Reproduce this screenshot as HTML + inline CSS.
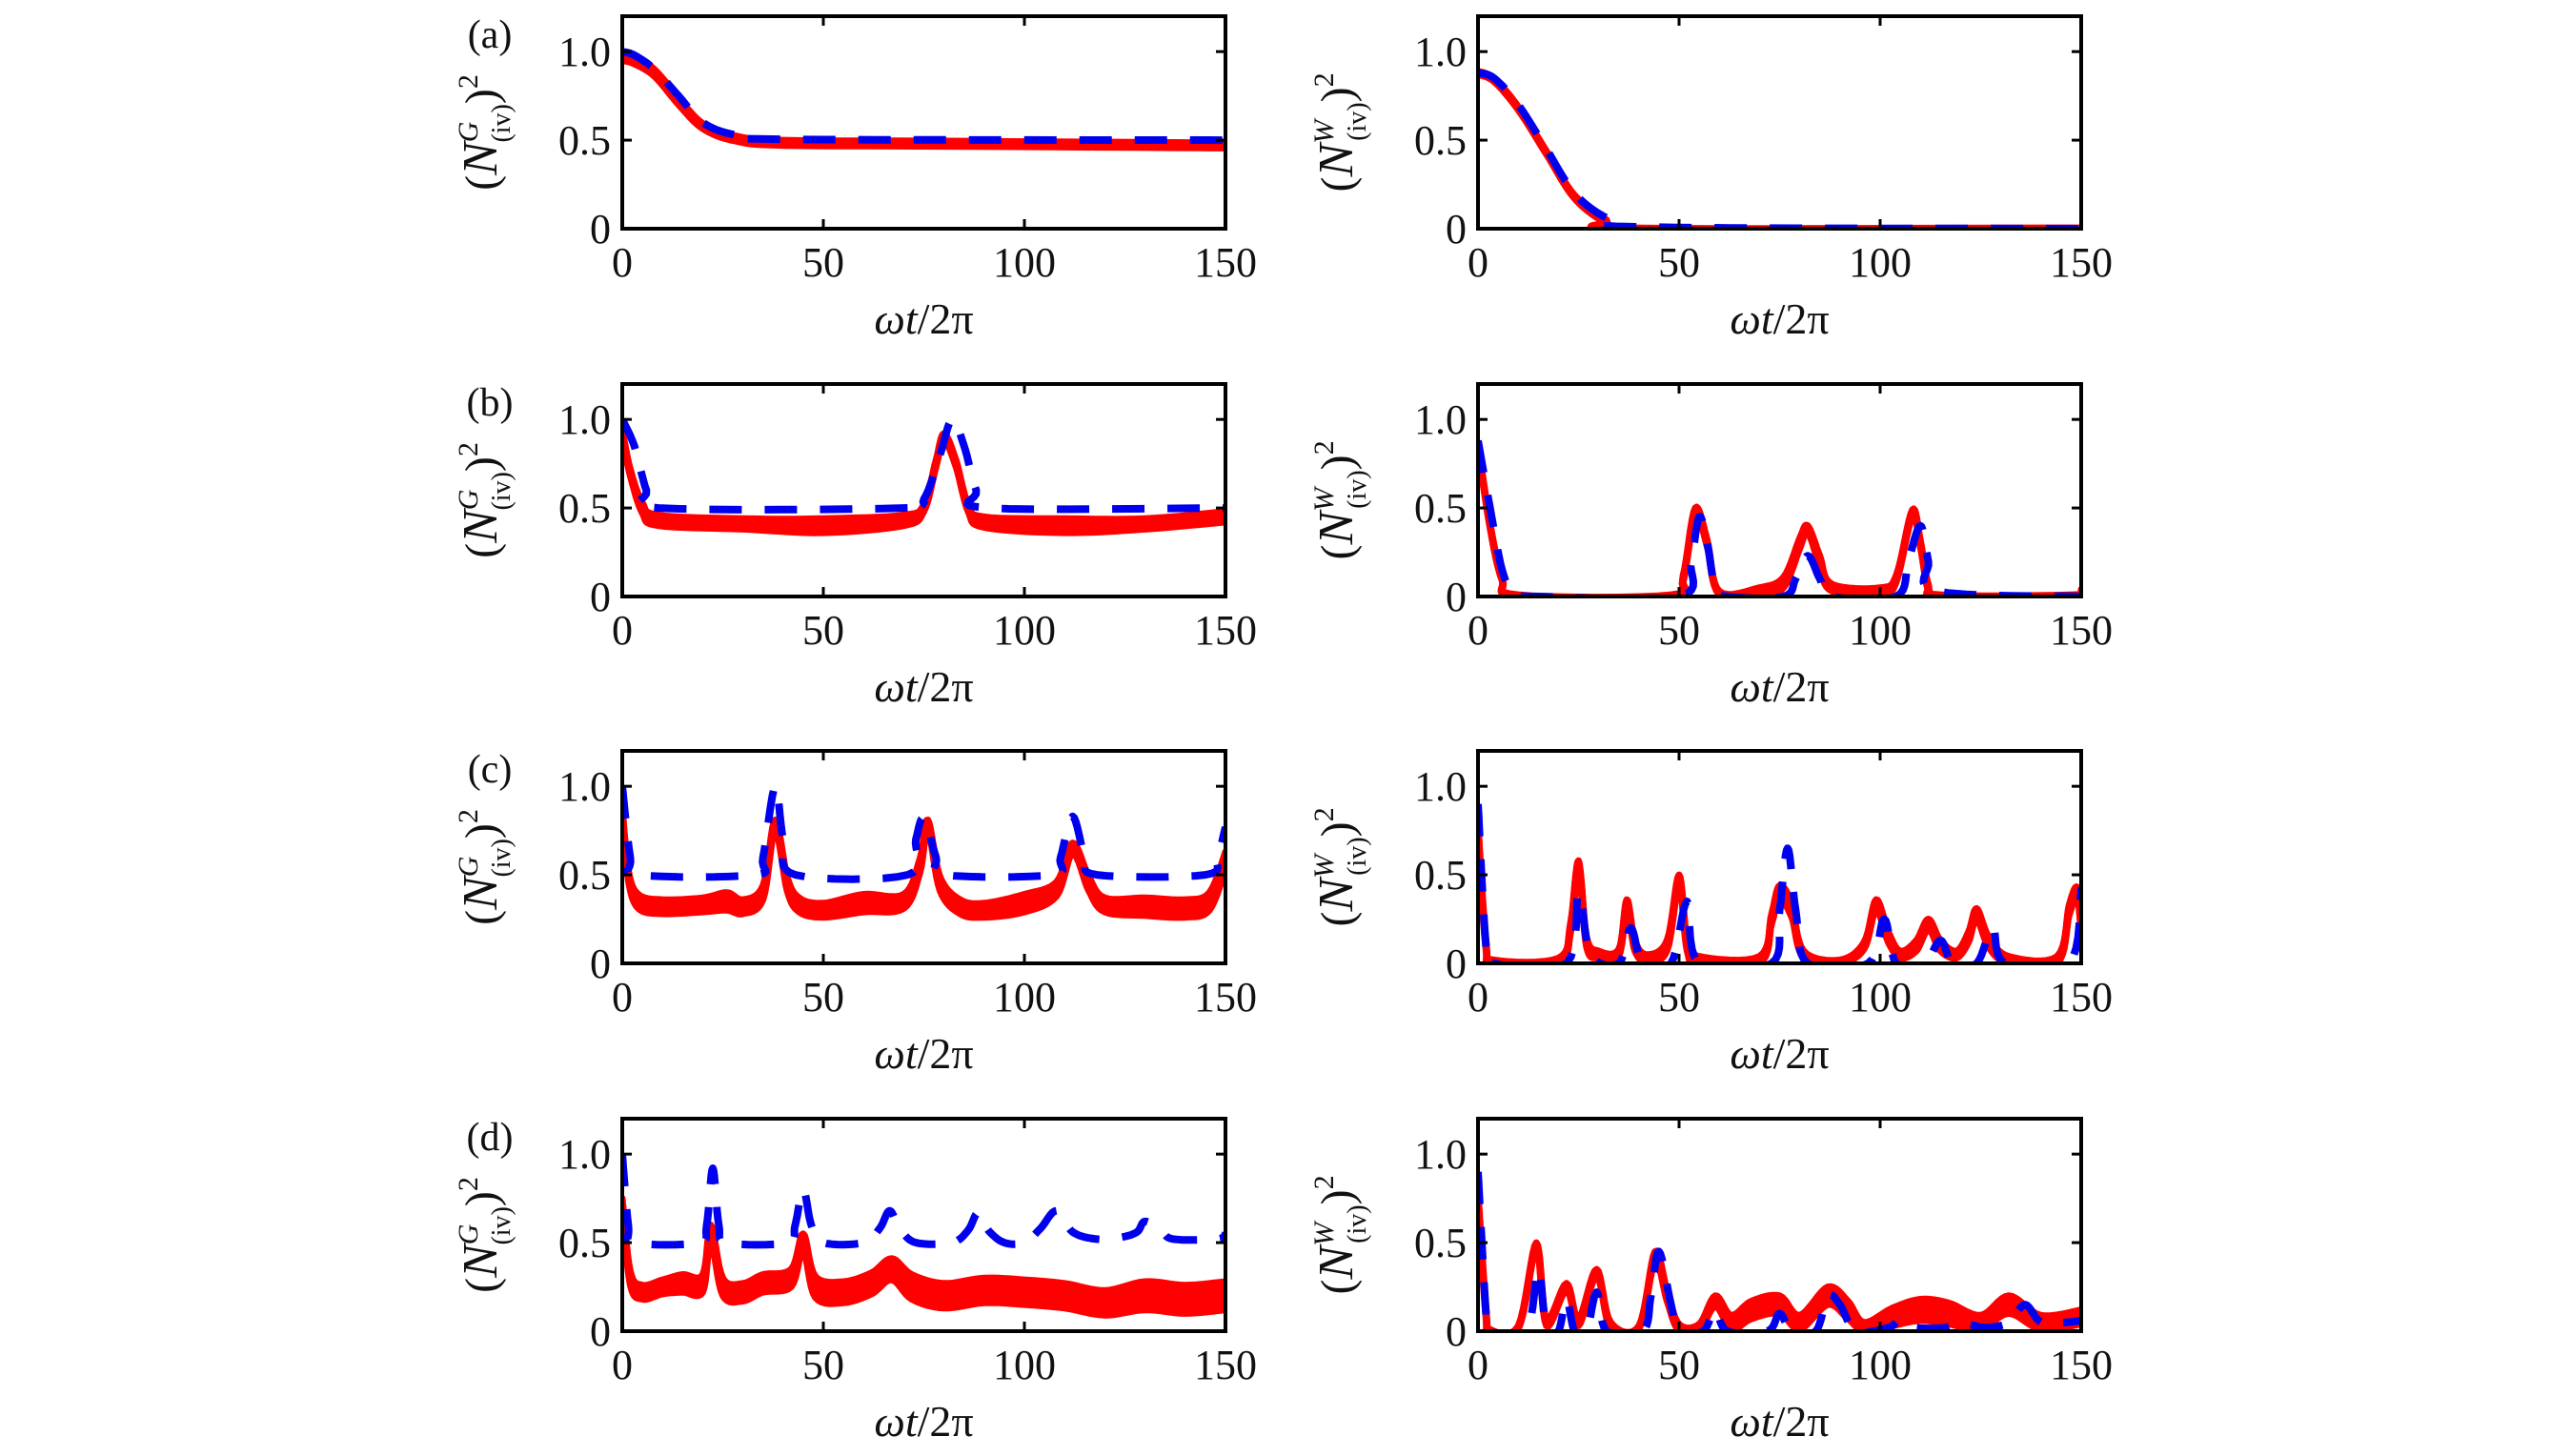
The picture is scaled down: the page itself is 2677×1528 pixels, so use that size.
<!DOCTYPE html>
<html><head><meta charset="utf-8">
<style>
html,body{margin:0;padding:0;background:#fff;}
svg{display:block;}
text{font-family:"Liberation Serif","DejaVu Serif",serif;fill:#111;}
</style></head>
<body>
<svg id="fig" width="2677" height="1528" viewBox="0 0 2677 1528" xmlns="http://www.w3.org/2000/svg"></svg>
<script>
// ---- data ----
const xTicks = [0, 50, 100, 150];
const yTicks = [0, 0.5, 1.0];
const yTickLabels = ["0", "0.5", "1.0"];
const panelLabels = ["(a)", "(b)", "(c)", "(d)"];

// Panel a-left
const aLBlueX = [0,3,8,14,20,28,40,150];
const aLBlueY = [1.0,0.98,0.9,0.75,0.6,0.53,0.505,0.5];
const aLRedX = [0,3,8,14,20,28,40,80,150];
const aLRedY = [0.97,0.95,0.88,0.72,0.58,0.51,0.485,0.48,0.47];
const aLRedSpread = [0.02,0.02,0.02,0.02,0.015,0.015,0.015,0.015,0.015];
// Panel a-right
const aRBlueX = [0,4,10,17,24,32,40,150];
const aRBlueY = [0.88,0.85,0.7,0.45,0.2,0.06,0.01,0];
const aRRedX = [0,4,10,17,24,32,38,150];
const aRRedY = [0.88,0.84,0.68,0.43,0.18,0.04,0.0,0.0];
const aRRedSpread = [0.01,0.01,0.01,0.01,0.01,0.01,0.005,0.005];
// Panel b-left
const bLBlueX = [0,3,6,9,70,75,79,82,85,88,91,150];
const bLBlueY = [1.0,0.85,0.6,0.5,0.5,0.55,0.8,1.0,0.85,0.6,0.5,0.5];
const bLRedX = [0,2,5,9,30,50,70,75,78,80,83,86,90,110,130,150];
const bLRedY = [0.92,0.7,0.5,0.43,0.41,0.40,0.43,0.5,0.75,0.9,0.75,0.5,0.42,0.40,0.41,0.45];
const bLRedSpread = [0.02,0.02,0.03,0.03,0.03,0.04,0.03,0.02,0.02,0.02,0.02,0.02,0.03,0.04,0.03,0.03];
// Panel b-right
const bRBlueX = [0,3,6,9,15,50,53,55,57,59,62,76,79,82,85,88,104,107,110,112,114,150];
const bRBlueY = [0.88,0.5,0.15,0.02,0,0,0.2,0.45,0.3,0.05,0,0,0.1,0.23,0.1,0,0,0.2,0.4,0.2,0.03,0];
const bRRedX = [0,3,6,10,48,51,54,57,60,70,76,80,82,85,88,100,104,108,110,112,115,148,150];
const bRRedY = [0.85,0.4,0.1,0,0,0.1,0.48,0.3,0.02,0.03,0.08,0.3,0.38,0.2,0.05,0.03,0.1,0.47,0.3,0.05,0,0,0.03];
const bRRedSpread = [0.01,0.01,0.01,0.01,0.01,0.02,0.02,0.02,0.01,0.02,0.03,0.03,0.02,0.03,0.02,0.02,0.02,0.02,0.02,0.02,0.01,0.01,0.01];
// Panel c-left
const cLBlueX = [0,2,4,33,35,38,40,43,71,73,75,78,80,107,109,112,115,118,145,148,150];
const cLBlueY = [1.0,0.6,0.5,0.5,0.6,1.0,0.7,0.5,0.5,0.7,0.82,0.6,0.5,0.5,0.6,0.83,0.6,0.5,0.5,0.6,0.77];
const cLRedX = [0,1.5,4,10,20,26,30,35,38,41,44,50,60,70,74,76,79,84,90,100,108,112,116,120,130,140,146,150];
const cLRedY = [0.85,0.5,0.35,0.32,0.33,0.35,0.32,0.4,0.78,0.45,0.33,0.3,0.34,0.35,0.55,0.78,0.45,0.32,0.3,0.34,0.42,0.65,0.45,0.33,0.32,0.31,0.35,0.58];
const cLRedSpread = [0.03,0.03,0.04,0.04,0.04,0.05,0.04,0.04,0.03,0.04,0.04,0.04,0.05,0.04,0.04,0.03,0.04,0.04,0.04,0.05,0.04,0.03,0.04,0.04,0.05,0.05,0.05,0.05];
// Panel c-right
const cRBlueX = [0,2,4,22,25,28,35,38,41,48,52,55,73,75,77,79,82,97,101,104,111,115,118,124,128,131,147,151];
const cRBlueY = [0.9,0.1,0,0,0.4,0.05,0,0.2,0,0,0.35,0,0,0.3,0.65,0.3,0,0,0.25,0,0,0.13,0,0,0.2,0,0,0.43];
const cRRedX = [0,2,4,20,23,25,27,30,35,37,39,42,47,50,52,55,70,73,75,78,81,90,96,99,102,105,109,112,115,119,122,124,127,132,144,147,149,151];
const cRRedY = [0.75,0.1,0.01,0.02,0.2,0.55,0.12,0.05,0.06,0.33,0.1,0.03,0.1,0.47,0.1,0.02,0.02,0.25,0.4,0.3,0.05,0.01,0.1,0.33,0.15,0.05,0.1,0.22,0.1,0.05,0.15,0.28,0.12,0.02,0.02,0.3,0.4,0.2];
const cRRedSpread = [0.01,0.01,0.01,0.01,0.03,0.03,0.03,0.02,0.02,0.03,0.03,0.02,0.03,0.03,0.03,0.02,0.02,0.03,0.04,0.04,0.02,0.01,0.02,0.03,0.03,0.02,0.03,0.03,0.03,0.02,0.03,0.03,0.03,0.02,0.02,0.03,0.03,0.03];
// Panel d-left
const dLBlueX = [0,1.5,3,19,21,22.5,24,26,41,43,45,47,50,60,64,66.5,69,73,82,86,88.5,91,95,100,104,108,112,118,124,128,130,134,137,148,150];
const dLBlueY = [1.0,0.6,0.5,0.5,0.6,0.92,0.6,0.5,0.5,0.6,0.8,0.6,0.5,0.5,0.58,0.68,0.58,0.5,0.5,0.57,0.67,0.57,0.5,0.5,0.58,0.68,0.56,0.52,0.53,0.56,0.62,0.57,0.52,0.52,0.55];
const dLRedX = [0,2,5,10,15,20,22,25,30,35,42,45,48,55,62,67,72,80,90,100,110,120,130,140,150];
const dLRedY = [0.72,0.3,0.22,0.25,0.27,0.27,0.55,0.25,0.22,0.27,0.3,0.5,0.25,0.22,0.27,0.35,0.25,0.2,0.23,0.22,0.2,0.16,0.2,0.18,0.2];
const dLRedSpread = [0.03,0.04,0.04,0.04,0.05,0.05,0.05,0.05,0.05,0.05,0.05,0.05,0.06,0.06,0.06,0.06,0.07,0.07,0.07,0.07,0.07,0.07,0.08,0.08,0.08];
// Panel d-right
const dRBlueX = [0,2,3,12,15,17,20,22,24,27,29.5,32,41,43,45,48,50,56,59,62,72,75,78,84,87,90,94,102,105,109,116,120,126,132,136,140,146,150];
const dRBlueY = [0.9,0.1,0,0,0.35,0,0,0.18,0,0,0.22,0,0,0.2,0.45,0.15,0,0,0.12,0,0,0.1,0,0,0.2,0.15,0,0.02,0.06,0.02,0.02,0.05,0.02,0.05,0.15,0.05,0.05,0.06];
const dRRedX = [0,2,3,10,14.5,17,22,25,29.5,33,40,44,47,50,55,59,63,68,75,80,87,92,96,103,110,117,125,132,140,150];
const dRRedY = [0.75,0.1,0,0.02,0.48,0.05,0.25,0.05,0.33,0.03,0.02,0.42,0.2,0.02,0.02,0.17,0.05,0.12,0.15,0.05,0.2,0.12,0.02,0.08,0.12,0.1,0.05,0.15,0.05,0.08];
const dRRedSpread = [0.01,0.01,0.01,0.01,0.02,0.02,0.02,0.02,0.02,0.02,0.01,0.03,0.03,0.02,0.02,0.03,0.04,0.05,0.05,0.04,0.05,0.05,0.03,0.05,0.06,0.06,0.04,0.05,0.04,0.04];

const panels = [
 {row:0,col:0,sup:"G",bx:aLBlueX,by:aLBlueY,rx:aLRedX,ry:aLRedY,rs:aLRedSpread},
 {row:0,col:1,sup:"W",bx:aRBlueX,by:aRBlueY,rx:aRRedX,ry:aRRedY,rs:aRRedSpread},
 {row:1,col:0,sup:"G",bx:bLBlueX,by:bLBlueY,rx:bLRedX,ry:bLRedY,rs:bLRedSpread},
 {row:1,col:1,sup:"W",bx:bRBlueX,by:bRBlueY,rx:bRRedX,ry:bRRedY,rs:bRRedSpread},
 {row:2,col:0,sup:"G",bx:cLBlueX,by:cLBlueY,rx:cLRedX,ry:cLRedY,rs:cLRedSpread},
 {row:2,col:1,sup:"W",bx:cRBlueX,by:cRBlueY,rx:cRRedX,ry:cRRedY,rs:cRRedSpread},
 {row:3,col:0,sup:"G",bx:dLBlueX,by:dLBlueY,rx:dLRedX,ry:dLRedY,rs:dLRedSpread},
 {row:3,col:1,sup:"W",bx:dRBlueX,by:dRBlueY,rx:dRRedX,ry:dRRedY,rs:dRRedSpread}
];

// ---- layout ----
const colLeft = [653, 1551];
const plotW = 633;
const rowTop = [17, 403, 788, 1174];
const plotH = 223;
const X_MAX = 150, Y_MAX = 1.2;
const NS = "http://www.w3.org/2000/svg";
const svg = document.getElementById("fig");

function el(tag, attrs, parent) {
  const e = document.createElementNS(NS, tag);
  for (const k in attrs) e.setAttribute(k, attrs[k]);
  (parent || svg).appendChild(e);
  return e;
}
// Catmull-Rom smoothing of screen points
function smooth(pts) {
  const out = [];
  for (let i = 0; i < pts.length - 1; i++) {
    const p0 = pts[Math.max(i - 1, 0)], p1 = pts[i], p2 = pts[i + 1], p3 = pts[Math.min(i + 2, pts.length - 1)];
    for (let s = 0; s < 8; s++) {
      const t = s / 8, t2 = t * t, t3 = t2 * t;
      const f = (a, b, c, d) => 0.5 * ((2 * b) + (-a + c) * t + (2 * a - 5 * b + 4 * c - d) * t2 + (-a + 3 * b - 3 * c + d) * t3);
      out.push([f(p0[0], p1[0], p2[0], p3[0]), f(p0[1], p1[1], p2[1], p3[1])]);
    }
  }
  out.push(pts[pts.length - 1]);
  return out;
}
const fmt = a => a.map(p => p[0].toFixed(1) + "," + p[1].toFixed(1)).join(" ");

panels.forEach((p, i) => {
  const L = colLeft[p.col], T = rowTop[p.row], B = T + plotH, R = L + plotW;
  const sx = v => L + Math.min(v, X_MAX) / X_MAX * plotW;
  const sy = v => B - v / Y_MAX * plotH;
  const tag = ["a","b","c","d"][p.row] + (p.col ? "-right" : "-left");

  const g = el("g", {});
  
  

  const clipId = "clip" + i;
  const cp = el("clipPath", {id: clipId}, g);
  el("rect", {x: L, y: T - 2, width: plotW, height: plotH}, cp);

  // red band
  const up = smooth(p.rx.map((x, k) => [sx(x), sy(Math.min(p.ry[k] + p.rs[k], Y_MAX))]));
  const lo = smooth(p.rx.map((x, k) => [sx(x), sy(Math.max(p.ry[k] - p.rs[k], 0))])).reverse();
  const band = el("polygon", {points: fmt(up.concat(lo)), fill: "#ff0000", stroke: "#ff0000", "stroke-width": 7, "stroke-linejoin": "round", "clip-path": "url(#" + clipId + ")"}, g);
  
  
  const rl = el("polyline", {points: fmt(smooth(p.rx.map((x, k) => [sx(x), sy(p.ry[k])]))), fill: "none", stroke: "#ff0000", "stroke-width": 8, "stroke-linejoin": "round", "clip-path": "url(#" + clipId + ")"}, g);
  
  

  // blue dashed
  const bl = el("polyline", {points: fmt(smooth(p.bx.map((x, k) => [sx(x), sy(p.by[k])]))), fill: "none", stroke: "#0000ee", "stroke-width": 8, "stroke-dasharray": "34 24", "stroke-linejoin": "round", "clip-path": "url(#" + clipId + ")"}, g);
  
  

  // axes box
  const box = el("rect", {x: L, y: T, width: plotW, height: plotH, fill: "none", stroke: "#000", "stroke-width": 4}, g);
  
  

  // ticks
  xTicks.forEach(v => {
    const x = sx(v);
    el("line", {x1: x, y1: B, x2: x, y2: B - 10, stroke: "#000", "stroke-width": 3}, g);
    el("line", {x1: x, y1: T, x2: x, y2: T + 10, stroke: "#000", "stroke-width": 3}, g);
    const t = el("text", {x: x, y: B + 50, "font-size": 44, "text-anchor": "middle"}, g);
    t.textContent = String(v);
    
    
  });
  yTicks.forEach((v, k) => {
    const y = sy(v);
    el("line", {x1: L, y1: y, x2: L + 10, y2: y, stroke: "#000", "stroke-width": 3}, g);
    el("line", {x1: R, y1: y, x2: R - 10, y2: y, stroke: "#000", "stroke-width": 3}, g);
    const t = el("text", {x: L - 12, y: y + 15, "font-size": 44, "text-anchor": "end"}, g);
    t.textContent = yTickLabels[k];
    
    
  });

  // x label
  const xl = el("text", {x: L + plotW / 2, y: B + 110, "font-size": 46, "text-anchor": "middle"}, g);
  xl.innerHTML = '<tspan font-style="italic">ωt</tspan>/2π';
  
  

  // y label (rotated), centred via measured bbox
  const cx = L - 132, cy = T + 122;
  const yl = el("text", {x: 0, y: 0, "font-size": 48, "text-anchor": "start", transform: "translate(" + cx + "," + cy + ") rotate(-90)"}, g);
  yl.innerHTML = '(<tspan font-style="italic" font-size="52">N</tspan><tspan font-size="30" font-style="italic" dy="-20">' + p.sup + '</tspan><tspan font-size="28" dx="-22" dy="34">(iv)</tspan><tspan dy="-14">)</tspan><tspan font-size="30" dy="-20">2</tspan>';
  
  
  try {
    const bb = yl.getBBox();
    yl.setAttribute("x", (-bb.x - bb.width / 2).toFixed(1));
  } catch (e) {}

  if (p.col === 0) {
    const pl = el("text", {x: 514, y: T + 33, "font-size": 42, "text-anchor": "middle"}, g);
    pl.textContent = panelLabels[p.row];
    
    
  }
});
</script>
</body></html>
